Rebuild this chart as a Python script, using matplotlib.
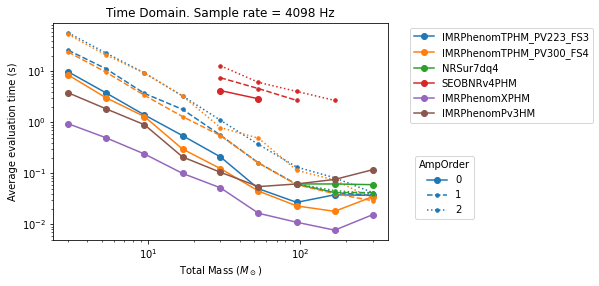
import matplotlib
matplotlib.use("Agg")
import matplotlib.pyplot as plt
import numpy as np
from matplotlib.lines import Line2D

nan = np.nan

masses = [3.0, 5.3, 9.5, 16.9, 30.0, 53.3, 94.9, 168.7, 300.0]

models = ["IMRPhenomTPHM_PV223_FS3", "IMRPhenomTPHM_PV300_FS4", "NRSur7dq4",
          "SEOBNRv4PHM", "IMRPhenomXPHM", "IMRPhenomPv3HM"]
amp_orders = [0, 1, 2]

# timings per model, one list per amp order (nan = not run)
pv223_ao0 = [9.8, 3.8, 1.4, 0.55, 0.21, 0.050, 0.027, 0.038, 0.037]
pv223_ao1 = [26, 11.3, 3.7, 1.8, 0.56, 0.16, 0.061, 0.042, 0.037]
pv223_ao2 = [57, 23, 9.3, 3.3, 1.1, 0.37, 0.133, 0.082, 0.042]

pv300_ao0 = [8.5, 3.05, 1.3, 0.30, 0.124, 0.045, 0.023, 0.018, 0.035]
pv300_ao1 = [24, 9.7, 3.4, 1.3, 0.55, 0.16, 0.060, 0.040, 0.029]
pv300_ao2 = [53, 21, 9.3, 3.3, 0.79, 0.49, 0.115, 0.074, 0.032]

nrsur_ao0 = [nan, nan, nan, nan, nan, nan, 0.062, 0.062, 0.060]
nrsur_ao1 = [nan, nan, nan, nan, nan, nan, 0.062, 0.042, 0.042]
nrsur_ao2 = [nan, nan, nan, nan, nan, nan, 0.062, 0.046, 0.040]

seob_ao0 = [nan, nan, nan, nan, 4.2, 2.9, nan, nan, nan]
seob_ao1 = [nan, nan, nan, nan, 7.5, 4.6, 2.7, nan, nan]
seob_ao2 = [nan, nan, nan, nan, 12.9, 6.1, 4.05, 2.7, nan]

xphm_ao0 = [0.94, 0.50, 0.24, 0.10, 0.052, 0.0165, 0.011, 0.0077, 0.0155]

pv3hm_ao0 = [3.8, 1.85, 0.90, 0.21, 0.105, 0.055, 0.062, 0.076, 0.118]

timings = {
    "IMRPhenomTPHM_PV223_FS3": [pv223_ao0, pv223_ao1, pv223_ao2],
    "IMRPhenomTPHM_PV300_FS4": [pv300_ao0, pv300_ao1, pv300_ao2],
    "NRSur7dq4": [nrsur_ao0, nrsur_ao1, nrsur_ao2],
    "SEOBNRv4PHM": [seob_ao0, seob_ao1, seob_ao2],
    "IMRPhenomXPHM": [xphm_ao0],
    "IMRPhenomPv3HM": [pv3hm_ao0],
}

styles = ["-", "--", ":"]
marks = ["o", ".", "."]
msizes = [6, 7, 7]

fig = plt.figure(figsize=(599 / 72, 286 / 72), dpi=72)
ax = fig.add_subplot(111)
fig.subplots_adjust(left=0.0885, right=0.6477, top=0.9196, bottom=0.1608)

for i, m in enumerate(models):
    c = "C%d" % i
    for k, t in enumerate(timings[m]):
        ax.plot(masses, t, ls=styles[k], marker=marks[k], ms=msizes[k],
                color=c, lw=1.5)

ax.set_xscale("log")
ax.set_yscale("log")
ax.set_xlabel(r"Total Mass ($M_\odot$)")
ax.set_ylabel("Average evaluation time (s)")
ax.set_title("Time Domain. Sample rate = 4098 Hz")

h1 = [Line2D([], [], color="C%d" % i, marker="o", ls="-", lw=1.5, ms=6)
      for i in range(len(models))]
leg1 = ax.legend(h1, models, loc="upper left", bbox_to_anchor=(1.05, 1))
ax.add_artist(leg1)

h2 = [Line2D([], [], color="C0", marker=marks[k], ls=styles[k], lw=1.5, ms=msizes[k])
      for k in range(3)]
ax.legend(h2, [str(a) for a in amp_orders], title="AmpOrder",
          loc="upper left", bbox_to_anchor=(1.065, 0.41))

fig.savefig("out.png", dpi=72)
